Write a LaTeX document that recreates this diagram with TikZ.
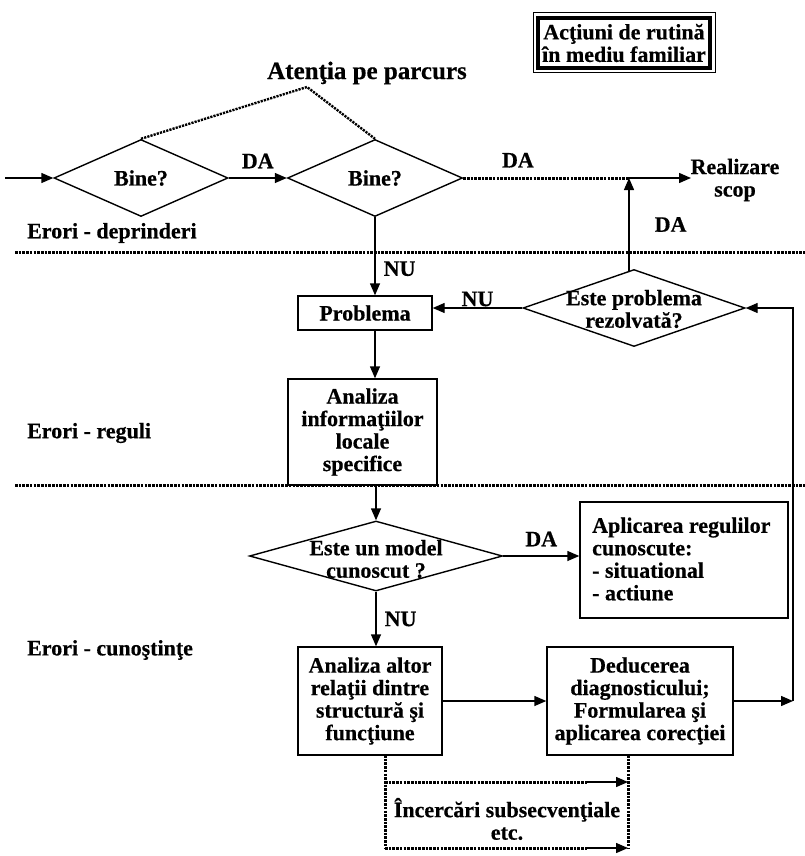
\documentclass[tikz,border=0pt]{standalone}
\usepackage{fontspec}
\setmainfont{Liberation Serif}[BoldFeatures={FakeBold=0.5}]
\usetikzlibrary{shapes.geometric,arrows.meta}
\begin{document}
\begin{tikzpicture}[x=1pt,y=-1pt,
  font=\bfseries\fontsize{22}{22.5}\selectfont,
  box/.style={draw, line width=1.4pt, inner sep=0pt, align=center},
  dia/.style={draw, diamond, line width=1.4pt, inner sep=0pt},
  arr/.style={-{Triangle[length=12pt,width=10pt]}, line width=1.4pt},
  dots/.style={line width=3pt, dash pattern=on 2.6pt off 1.1pt},
  lbl/.style={inner sep=0pt, align=center}]
\useasboundingbox (0,0) rectangle (805,856);

% routine box (double frame)
\node[draw, line width=1pt, minimum width=182pt, minimum height=60pt, inner sep=0pt] (rout) at (624,43) {};
\node[draw, line width=4pt, minimum width=172pt, minimum height=50pt, inner sep=0pt, align=center] (routin) at (624,43) {Acţiuni de rutină\\în mediu familiar};

\node[lbl, font=\bfseries\fontsize{25}{27}\selectfont] (aten) at (367,73) {Atenţia pe parcurs};

% diamonds
\node[dia, minimum width=174pt, minimum height=77pt] (d1) at (141,178) {Bine?};
\node[dia, minimum width=175pt, minimum height=77pt] (d2) at (375,178) {Bine?};
\node[dia, minimum width=222pt, minimum height=77pt] (d3) at (634,308) {};
\node[lbl] (d3t) at (634,309) {Este problema\\rezolvată?};
\node[dia, minimum width=253pt, minimum height=70pt] (d4) at (376,556) {};
\node[lbl] (d4t) at (376,559) {Este un model\\cunoscut ?};

% boxes
\node[box, minimum width=134pt, minimum height=34pt] (prob) at (365,313) {Problema};
\node[box, minimum width=149pt, minimum height=106pt] (ana1) at (362.5,432) {Analiza\\informaţiilor\\locale\\specifice};
\node[box, minimum width=208pt, minimum height=116pt] (apl) at (684,560) {};
\node[lbl, align=left, anchor=west] (aplt) at (592,559) {Aplicarea regulilor\\cunoscute:\\- situational\\- actiune};
\node[box, minimum width=144pt, minimum height=108pt] (ana2) at (370,701) {Analiza altor\\relaţii dintre\\structură şi\\funcţiune};
\node[box, minimum width=186pt, minimum height=108pt] (ded) at (640,701) {Deducerea\\diagnosticului;\\Formularea şi\\aplicarea corecţiei};

\node[lbl] (real) at (735,180) {Realizare\\scop};

% left labels
\node[lbl, anchor=west] (e1) at (27,233) {Erori - deprinderi};
\node[lbl, anchor=west] (e2) at (27,433) {Erori - reguli};
\node[lbl, anchor=west] (e3) at (27,650) {Erori - cunoştinţe};

% band separators
\coordinate (s1a) at (15,252); \coordinate (s1b) at (805,252);
\coordinate (s2a) at (15,485); \coordinate (s2b) at (805,485);
\draw[dots] (s1a) -- (s1b);
\draw[dots] (s2a) -- (s2b);

% attention dotted triangle
\coordinate (apex) at (307,87);
\draw[line width=2.4pt, dash pattern=on 2.2pt off 1.1pt] (d1.north) -- (apex) -- (d2.north);

% connectors
\coordinate (start) at (5,178);
\draw[arr] (start) -- (d1.west);
\draw[arr] (d1.east) -- (d2.west) node[lbl, midway, above=9pt] (da1) {DA};
\coordinate (c1) at (629,178);
\coordinate (goal) at (691,178);
\draw[dots] (d2.east) -- (c1) node[lbl, pos=0.33, above=9pt] (da2) {DA};
\draw[arr] (c1) -- (goal);
\coordinate (d3top) at (629,271);
\draw[arr] (d3top) -- (c1) node[lbl, pos=0.5, right=25pt] (da3) {DA};
\draw[arr] (d2.south) -- (d2.south |- prob.north) node[lbl, pos=0.66, right=8pt] (nu1) {NU};
\draw[arr] (d3.west) -- (d3.west -| prob.east) node[lbl, pos=0.5, above=1pt] (nu2) {NU};
\draw[arr] (d2.south |- prob.south) -- (d2.south |- ana1.north);
\draw[arr] (d4.north |- ana1.south) -- (d4.north);
\draw[arr] (d4.east) -- (d4.east -| apl.west) node[lbl, midway, above=9pt] (da4) {DA};
\draw[arr] (d4.south) -- (d4.south |- ana2.north) node[lbl, pos=0.5, right=8pt] (nu3) {NU};
\draw[arr] (ana2.east) -- (ded.west);
\coordinate (corner) at (793,701);
\draw[arr] (ded.east) -- (corner);
\draw[arr] (corner) -- (corner |- d3.east) -- (d3.east);

% subsequent attempts
\coordinate (l1) at (385,755);
\coordinate (l2) at (385,782);
\coordinate (l3) at (385,848);
\coordinate (m2) at (587,782);
\coordinate (m3) at (587,848);
\coordinate (r1) at (628,755);
\coordinate (r2) at (628,782);
\coordinate (r3) at (628,848);
\draw[dots] (l1) -- (l3);
\draw[dots] (r1) -- (r3);
\draw[dots] (l2) -- (m2);
\draw[dots] (l3) -- (m3);
\draw[arr] (m2) -- (r2);
\draw[arr] (m3) -- (r3);
\node[lbl] (inc) at (507,819) {Încercări subsecvenţiale\\etc.};
\end{tikzpicture}
\end{document}
